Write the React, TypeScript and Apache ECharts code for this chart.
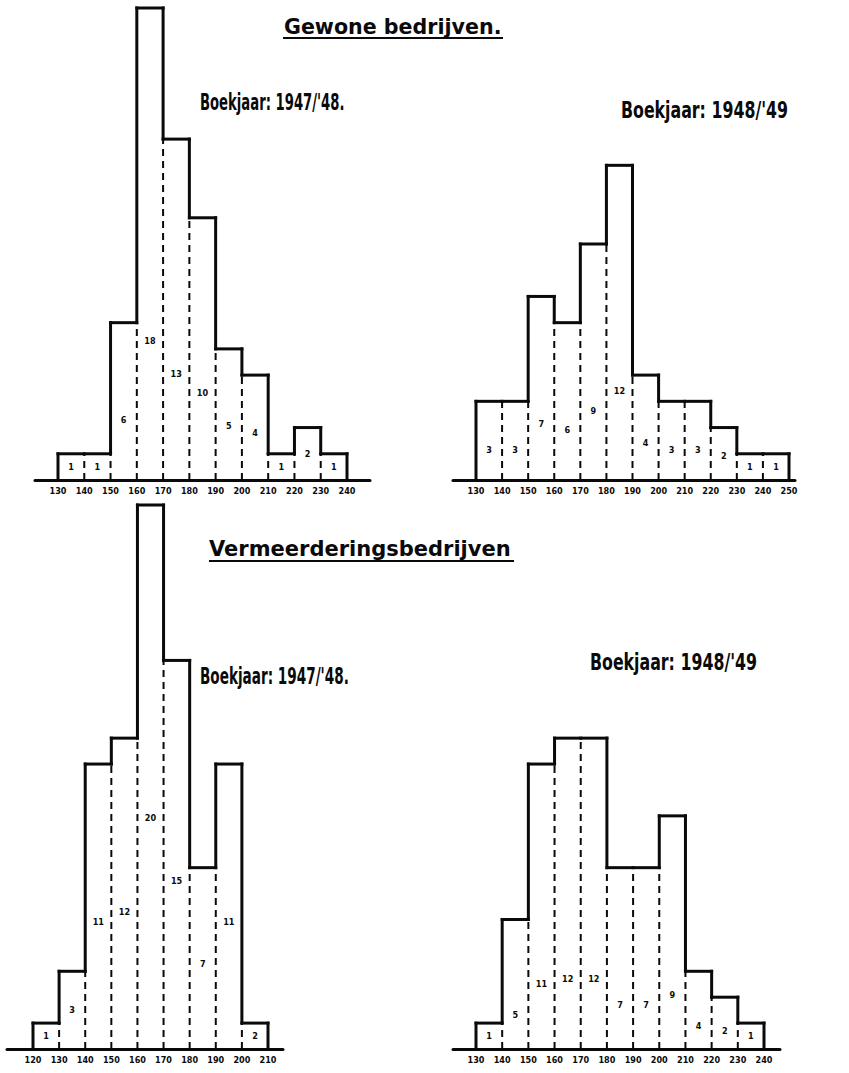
import React, { useEffect, useRef } from "react";
import * as echarts from "echarts";

// ---- Data ----
// Gewone bedrijven, Boekjaar 1947/'48
const gb4748Ticks = [130, 140, 150, 160, 170, 180, 190, 200, 210, 220, 230, 240];
const gb4748Heights = [1, 1, 6, 18, 13, 10, 5, 4, 1, 2, 1];
const gb4748Counts = ["1", "1", "6", "18", "13", "10", "5", "4", "1", "2", "1"];

// Gewone bedrijven, Boekjaar 1948/'49
const gb4849Ticks = [130, 140, 150, 160, 170, 180, 190, 200, 210, 220, 230, 240, 250];
const gb4849Heights = [3, 3, 7, 6, 9, 12, 4, 3, 3, 2, 1, 1];
const gb4849Counts = ["3", "3", "7", "6", "9", "12", "4", "3", "3", "2", "1", "1"];

// Vermeerderingsbedrijven, Boekjaar 1947/'48
const vb4748Ticks = [120, 130, 140, 150, 160, 170, 180, 190, 200, 210];
const vb4748Heights = [1, 3, 11, 12, 21, 15, 7, 11, 1];
const vb4748Counts = ["1", "3", "11", "12", "20", "15", "7", "11", "2"];

// Vermeerderingsbedrijven, Boekjaar 1948/'49
const vb4849Ticks = [130, 140, 150, 160, 170, 180, 190, 200, 210, 220, 230, 240];
const vb4849Heights = [1, 5, 11, 12, 12, 7, 7, 9, 3, 2, 1];
const vb4849Counts = ["1", "5", "11", "12", "12", "7", "7", "9", "4", "2", "1"];

const titleTop = "Gewone bedrijven.";
const titleBottom = "Vermeerderingsbedrijven";
const sub4748 = "Boekjaar: 1947/'48.";
const sub4849 = "Boekjaar: 1948/'49";

// ---- Layout (pixels) ----
type Panel = {
  ticks: number[];
  heights: number[];
  counts: string[];
  firstPx: number;
  lastPx: number;
  axisLeft: number;
  axisRight: number;
  baseY: number;
  topY: number;
  yMax: number;
  la: number;
  lb: number;
};

const panels: Panel[] = [
  { ticks: gb4748Ticks, heights: gb4748Heights, counts: gb4748Counts, firstPx: 58, lastPx: 347, axisLeft: 35, axisRight: 370, baseY: 480, topY: 8, yMax: 18, la: 0.25, lb: 0.8 },
  { ticks: gb4849Ticks, heights: gb4849Heights, counts: gb4849Counts, firstPx: 476, lastPx: 789, axisLeft: 453, axisRight: 795, baseY: 480, topY: 8, yMax: 18, la: 0.25, lb: 0.4 },
  { ticks: vb4748Ticks, heights: vb4748Heights, counts: vb4748Counts, firstPx: 33, lastPx: 268, axisLeft: 7, axisRight: 283, baseY: 1049, topY: 505, yMax: 21, la: 0.4, lb: 0.5 },
  { ticks: vb4849Ticks, heights: vb4849Heights, counts: vb4849Counts, firstPx: 476, lastPx: 764, axisLeft: 453, axisRight: 780, baseY: 1049, topY: 505, yMax: 21, la: 0.2, lb: 0.3 },
];

const INK = "#0a0a0a";
const HAND = "DejaVu Sans";

function buildOption() {
  const grids: any[] = [];
  const xAxes: any[] = [];
  const yAxes: any[] = [];
  const series: any[] = [];

  panels.forEach((p, i) => {
    const t0 = p.ticks[0];
    const t1 = p.ticks[p.ticks.length - 1];
    const pxPerUnit = (p.lastPx - p.firstPx) / (t1 - t0);
    const min = t0 - (p.firstPx - p.axisLeft) / pxPerUnit;
    const max = t1 + (p.axisRight - p.lastPx) / pxPerUnit;
    grids.push({ left: p.axisLeft, width: p.axisRight - p.axisLeft, top: p.topY, height: p.baseY - p.topY });
    xAxes.push({
      gridIndex: i,
      type: "value",
      min,
      max,
      axisLine: { show: true, lineStyle: { color: INK, width: 3 } },
      axisTick: { show: false },
      splitLine: { show: false },
      axisLabel: {
        customValues: p.ticks,
        color: INK,
        fontFamily: "DejaVu Sans Condensed",
        fontWeight: "bold",
        fontSize: 9,
        margin: 6,
      },
    });
    yAxes.push({ gridIndex: i, type: "value", min: 0, max: p.yMax, show: false });

    const rows = p.heights.map((h, k) => [
      t0 + k * 10,
      t0 + (k + 1) * 10,
      h,
      k === 0 ? -1 : p.heights[k - 1],
      k === p.heights.length - 1 ? 1 : 0,
    ]);
    const counts = p.counts;
    const la = p.la;
    const lb = p.lb;

    series.push({
      type: "custom",
      xAxisIndex: i,
      yAxisIndex: i,
      clip: false,
      silent: true,
      encode: { x: [0, 1], y: 2 },
      data: rows,
      renderItem: (params: any, api: any) => {
        const x0 = api.value(0);
        const x1 = api.value(1);
        const h = api.value(2);
        const prev = api.value(3);
        const last = api.value(4);
        const solid = { stroke: INK, lineWidth: 3, lineCap: "square" };
        const dashed = { stroke: INK, lineWidth: 2, lineDash: [7, 5] };
        const children: any[] = [];
        const a = api.coord([x0, h]);
        const b = api.coord([x1, h]);
        children.push({ type: "line", shape: { x1: a[0], y1: a[1], x2: b[0], y2: b[1] }, style: solid });
        const base0 = api.coord([x0, 0]);
        if (prev < 0) {
          children.push({ type: "line", shape: { x1: base0[0], y1: base0[1], x2: a[0], y2: a[1] }, style: solid });
        } else {
          const lo = Math.min(prev, h);
          const hi = Math.max(prev, h);
          const pLo = api.coord([x0, lo]);
          const pHi = api.coord([x0, hi]);
          children.push({ type: "line", shape: { x1: base0[0], y1: base0[1], x2: pLo[0], y2: pLo[1] }, style: dashed });
          if (hi > lo) {
            children.push({ type: "line", shape: { x1: pLo[0], y1: pLo[1], x2: pHi[0], y2: pHi[1] }, style: solid });
          }
        }
        if (last) {
          const base1 = api.coord([x1, 0]);
          children.push({ type: "line", shape: { x1: base1[0], y1: base1[1], x2: b[0], y2: b[1] }, style: solid });
        }
        const ly = Math.min(la * h + lb, h * 0.5);
        const lp = api.coord([(x0 + x1) / 2, ly]);
        children.push({
          type: "text",
          x: lp[0],
          y: lp[1],
          style: {
            text: counts[params.dataIndex],
            fill: INK,
            font: "bold 9px 'DejaVu Sans Condensed'",
            align: "center",
            verticalAlign: "middle",
          },
        });
        return { type: "group", children };
      },
    });
  });

  const textEl = (text: string, x: number, y: number, size: number, sx: number, sy: number) => ({
    type: "text",
    x,
    y,
    scaleX: sx,
    scaleY: sy,
    style: {
      text,
      fill: INK,
      font: `bold ${size}px '${HAND}'`,
      align: "left",
      verticalAlign: "middle",
    },
  });
  const under = (x1: number, x2: number, y: number) => ({
    type: "line",
    shape: { x1, y1: y, x2, y2: y },
    style: { stroke: INK, lineWidth: 2 },
  });

  const graphic = [
    textEl(titleTop, 284, 27, 20, 1.03, 1.05),
    under(283, 503, 38),
    textEl(sub4748, 200, 102, 20, 0.66, 1.12),
    textEl(sub4849, 621, 110, 20, 0.79, 1.12),
    textEl(titleBottom, 209, 549, 20, 1.05, 1.05),
    under(209, 514, 561),
    textEl(sub4748, 200, 676, 20, 0.68, 1.12),
    textEl(sub4849, 590, 662, 20, 0.79, 1.12),
  ];

  return {
    animation: false,
    backgroundColor: "#ffffff",
    grid: grids,
    xAxis: xAxes,
    yAxis: yAxes,
    series,
    graphic,
  };
}

export default function App() {
  const ref = useRef<HTMLDivElement>(null);
  useEffect(() => {
    if (!ref.current) return;
    const chart = echarts.init(ref.current, null, { renderer: "svg" });
    chart.setOption(buildOption() as any);
    return () => chart.dispose();
  }, []);
  return (
    <div
      ref={ref}
      style={{ position: "absolute", left: 0, top: 0, width: 849, height: 1073, background: "#fff" }}
    />
  );
}
